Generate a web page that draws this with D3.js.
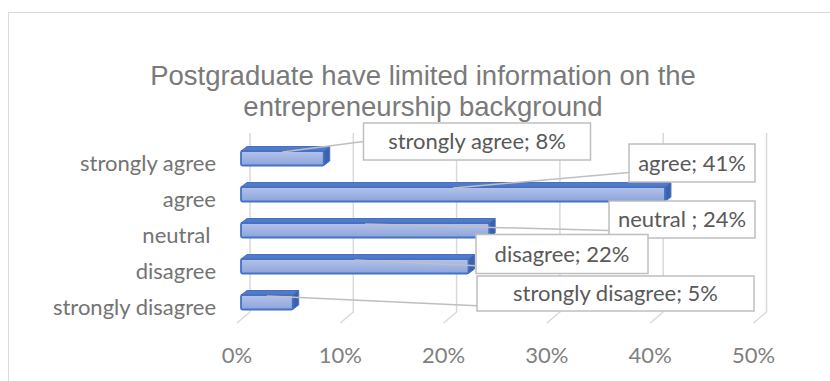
<!DOCTYPE html>
<html>
<head>
<meta charset="utf-8">
<script src="https://cdn.jsdelivr.net/npm/d3@7"></script>
<style>
  html, body { margin: 0; padding: 0; background: #fff; }
  svg { display: block; }
  text { white-space: pre; }
</style>
</head>
<body>
<svg id="chart" width="830" height="381"></svg>
<script>
// Survey responses (share of postgraduates)
const categories = ["strongly agree", "agree", "neutral ", "disagree", "strongly disagree"];
const values = [0.08, 0.41, 0.24, 0.22, 0.05];
const dataLabels = ["strongly agree; 8%", "agree; 41%", "neutral ; 24%", "disagree; 22%", "strongly disagree; 5%"];
const tickValues = [0, 0.1, 0.2, 0.3, 0.4, 0.5];
const titleLines = ["Postgraduate have limited information on the", "entrepreneurship background"];

// Data label callout boxes: centre (in px), size, and where the leader meets the box edge
const labelBoxes = [
  { cx: 477, cy: 141.5, w: 227, h: 37, attach: 0.5 },
  { cx: 692, cy: 163,   w: 126, h: 38, attach: 0.75 },
  { cx: 682, cy: 219.5, w: 146, h: 37, attach: 0.8 },
  { cx: 562, cy: 254,   w: 172, h: 39, attach: 0.8 },
  { cx: 615.5, cy: 293.5, w: 277, h: 35, attach: 0.85 }
];

const svg = d3.select("#chart");
const font = "Lato, 'Open Sans', sans-serif";
const fontSize = 22;

// chart frame
svg.append("rect")
  .attr("x", 8.5).attr("y", 12.5).attr("width", 840).attr("height", 400)
  .attr("fill", "#fff").attr("stroke", "#d9d9d9").attr("stroke-width", 1);

// title
svg.append("g").selectAll("text").data(titleLines).join("text")
  .attr("x", 423).attr("y", (d, i) => 85 + i * 31)
  .attr("text-anchor", "middle")
  .attr("font-family", "'Liberation Sans Narrow', 'Liberation Sans', Arial, sans-serif")
  .attr("font-size", 27.5)
  .attr("fill", "#7a7a7a")
  .text(d => d);

// 3D geometry
const depthX = 13, depthY = 11;     // floor depth (back wall to front edge)
const wallTop = 133, wallBottom = 312;
const xBack = d3.scaleLinear().domain([0, 0.5]).range([250, 766.5]);
const xFront = d3.scaleLinear().domain([0, 0.5]).range([241, 758]);
const yMid = d3.scalePoint().domain(categories).range([158.25, 302.25]);
const barH = 14.5, barDx = 6, barDy = -4.5;

// gridlines on back wall + floor
const grid = svg.append("g").attr("stroke", "#d9d9d9").attr("stroke-width", 1.5).attr("fill", "none");
grid.selectAll("path").data(tickValues).join("path")
  .attr("d", d => {
    const x = xBack(d);
    return `M${x},${wallTop}L${x},${wallBottom}L${x - depthX},${wallBottom + depthY}`;
  });

// tick labels
svg.append("g").selectAll("text").data(tickValues).join("text")
  .attr("x", d => xBack(d) - depthX)
  .attr("y", 355)
  .attr("dy", "0.35em")
  .attr("text-anchor", "middle")
  .attr("font-family", font).attr("font-size", fontSize)
  .attr("fill", "#7f7f7f")
  .text(d3.format(".0%"));

// category labels
svg.append("g").selectAll("text").data(categories).join("text")
  .attr("x", 216)
  .attr("y", d => yMid(d) + 5)
  .attr("dy", "0.35em")
  .attr("text-anchor", "end")
  .attr("font-family", font).attr("font-size", fontSize)
  .attr("fill", "#737373")
  .text(d => d);

// bars
const defs = svg.append("defs");
const grad = defs.append("linearGradient").attr("id", "barFront")
  .attr("x1", 0).attr("y1", 0).attr("x2", 0).attr("y2", 1);
grad.append("stop").attr("offset", 0).attr("stop-color", "#b3c2e9");
grad.append("stop").attr("offset", 1).attr("stop-color", "#8ea5dc");

const rows = categories.map((c, i) => ({ cat: c, value: values[i], label: dataLabels[i], box: labelBoxes[i] }));

const bars = svg.append("g").selectAll("g").data(rows).join("g");
// top face
bars.append("path")
  .attr("d", d => {
    const x0 = xFront(0), x1 = xFront(d.value), y = yMid(d.cat) - barH / 2;
    return `M${x0},${y}L${x0 + barDx},${y + barDy}L${x1 + barDx},${y + barDy}L${x1},${y}Z`;
  })
  .attr("fill", "#5479c8").attr("stroke", "#4472c4").attr("stroke-width", 1).attr("stroke-linejoin", "round");
// side face
bars.append("path")
  .attr("d", d => {
    const x1 = xFront(d.value), y = yMid(d.cat) - barH / 2;
    return `M${x1},${y}L${x1 + barDx},${y + barDy}L${x1 + barDx},${y + barDy + barH}L${x1},${y + barH}Z`;
  })
  .attr("fill", "#3d62ad").attr("stroke", "#4472c4").attr("stroke-width", 1).attr("stroke-linejoin", "round");
// front face
bars.append("rect")
  .attr("x", xFront(0))
  .attr("y", d => yMid(d.cat) - barH / 2)
  .attr("width", d => xFront(d.value) - xFront(0))
  .attr("height", barH)
  .attr("rx", 1.5)
  .attr("fill", "url(#barFront)")
  .attr("stroke", "#4472c4").attr("stroke-width", 1.8);

// leader lines
svg.append("g").selectAll("line").data(rows).join("line")
  .attr("x1", d => (xFront(0) + xFront(d.value)) / 2)
  .attr("y1", d => yMid(d.cat) - barH / 2 + 1)
  .attr("x2", d => d.box.cx - d.box.w / 2)
  .attr("y2", d => d.box.cy - d.box.h / 2 + d.box.h * d.box.attach)
  .attr("stroke", "#bfbfbf").attr("stroke-width", 1.5);

// data label boxes
const lab = svg.append("g").selectAll("g").data(rows).join("g");
lab.append("rect")
  .attr("x", d => d.box.cx - d.box.w / 2)
  .attr("y", d => d.box.cy - d.box.h / 2)
  .attr("width", d => d.box.w).attr("height", d => d.box.h)
  .attr("fill", "#fff").attr("stroke", "#bfbfbf").attr("stroke-width", 1.5);
lab.append("text")
  .attr("x", d => d.box.cx).attr("y", d => d.box.cy)
  .attr("dy", "0.35em")
  .attr("text-anchor", "middle")
  .attr("font-family", font).attr("font-size", fontSize)
  .attr("fill", "#595959")
  .text(d => d.label);
</script>
</body>
</html>
